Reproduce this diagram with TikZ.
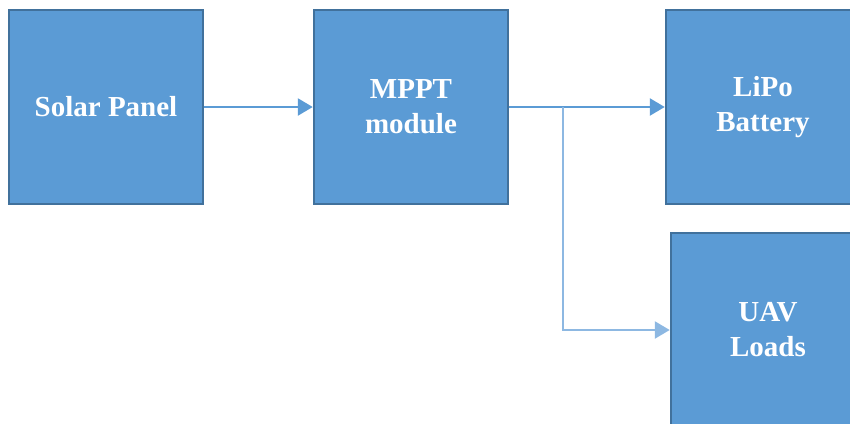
\documentclass[tikz,border=0pt]{standalone}
\usepackage{fontspec}
\setmainfont{Liberation Serif}
\usetikzlibrary{arrows.meta}
\definecolor{boxfill}{HTML}{5B9BD5}
\definecolor{boxline}{HTML}{41719C}
\definecolor{wireblue}{HTML}{5B9BD5}
\definecolor{wirelight}{HTML}{8DB8E2}
\tikzset{
    block/.style = {draw = boxline, line width = 2.5pt, fill = boxfill, minimum width = 194pt, minimum height = 194pt, inner sep = 0pt, text = white, font = \fontsize{29}{35}\selectfont\bfseries, align = center},
    wire/.style = {-{Triangle[length = 15pt, width = 17pt]}, line width = 2.5pt, color = wireblue}
}

\begin{document}
\begin{tikzpicture}[x = 1pt, y = -1pt]
    \useasboundingbox (0,0) rectangle (850,423);
    \clip (0,0) rectangle (850,423);
    \node [block] (solar) at (106,107) {Solar Panel};
    \node [block] (mppt) at (411,107) {MPPT\\module};
    \node [block] (lipo) at (763,107) {LiPo\\Battery};
    \node [block] (uav) at (768,330) {UAV\\Loads};
    \coordinate (split) at (563,107);
    \draw [wire] (solar) -- (mppt);
    \draw [wire] (mppt) -- (lipo);
    \draw [wire, color = wirelight] (split) |- (uav.west);
\end{tikzpicture}
\end{document}
